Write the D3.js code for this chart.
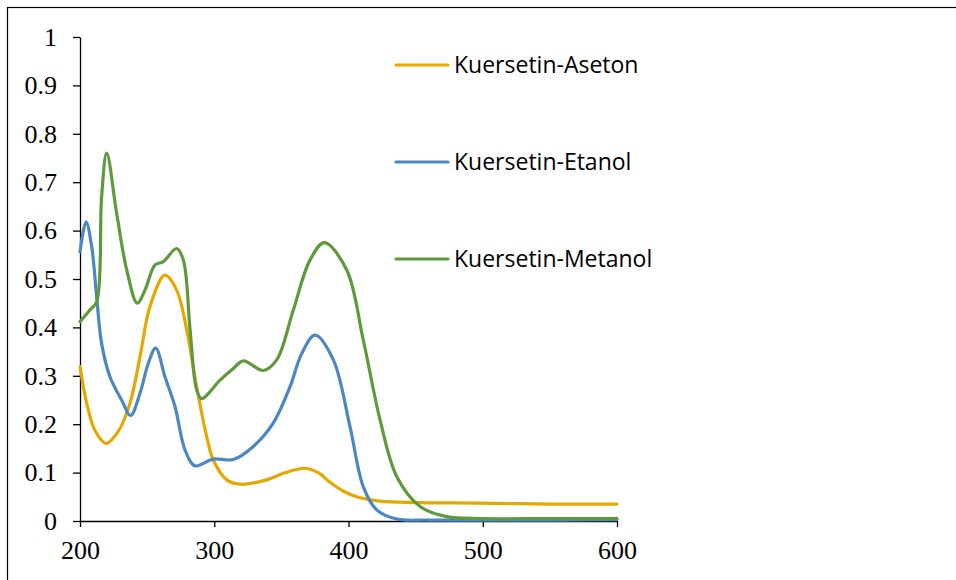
<!DOCTYPE html>
<html><head><meta charset="utf-8">
<script src="https://cdn.jsdelivr.net/npm/d3@7"></script>
<style>body{margin:0;background:#fff}svg{display:block}</style>
</head><body>
<svg id="c" width="956" height="580"></svg>
<script>
const seriesNames = ["Kuersetin-Aseton", "Kuersetin-Etanol", "Kuersetin-Metanol"];
const seriesColors = ["#E5A800", "#4C87C2", "#5E9A3B"];
const xTicks = [200, 300, 400, 500, 600];
const yTicks = [0, 0.1, 0.2, 0.3, 0.4, 0.5, 0.6, 0.7, 0.8, 0.9, 1];

const asetonX = [200, 205, 211, 219.4, 228.5, 237.2, 244.7, 252.1, 263.3, 272, 279.5, 286.9, 294.4, 299.3, 309.3, 319.2, 339, 352, 367.6, 378, 386.2, 396, 406, 423.5, 450, 498, 550, 600];
const asetonY = [0.319, 0.243, 0.188, 0.160, 0.185, 0.243, 0.339, 0.443, 0.508, 0.477, 0.395, 0.277, 0.174, 0.126, 0.085, 0.076, 0.085, 0.099, 0.109, 0.099, 0.080, 0.062, 0.050, 0.041, 0.038, 0.037, 0.035, 0.035];

const etanolX = [200, 204.5, 208.7, 212.4, 216.1, 222.3, 231, 237.7, 244.7, 250.9, 256.4, 263.3, 270.8, 278.2, 285.7, 299.3, 314.2, 329.1, 343.9, 356.4, 365, 375, 388.7, 401.1, 411, 421, 436, 460, 500, 550, 600];
const etanolY = [0.556, 0.618, 0.567, 0.463, 0.367, 0.298, 0.250, 0.218, 0.264, 0.326, 0.357, 0.298, 0.236, 0.147, 0.114, 0.128, 0.127, 0.154, 0.202, 0.277, 0.345, 0.384, 0.333, 0.195, 0.071, 0.023, 0.004, 0.002, 0.002, 0.002, 0.003];

const metanolX = [200, 207.4, 212.4, 216.1, 219.9, 227.3, 234.8, 242.7, 248.4, 255.9, 262.1, 272, 277, 282, 286.9, 290.6, 304.3, 314.2, 321.6, 336.5, 346.5, 358.9, 371.3, 382, 398.6, 411, 423.5, 435.9, 453.3, 473, 500, 550, 600];
const metanolY = [0.412, 0.436, 0.453, 0.670, 0.760, 0.636, 0.519, 0.450, 0.477, 0.529, 0.536, 0.563, 0.539, 0.395, 0.271, 0.253, 0.291, 0.315, 0.331, 0.311, 0.333, 0.436, 0.539, 0.575, 0.519, 0.374, 0.209, 0.092, 0.030, 0.009, 0.005, 0.005, 0.005];

const seriesX = [asetonX, etanolX, metanolX];
const seriesY = [asetonY, etanolY, metanolY];

const svg = d3.select("#c");
svg.append("rect").attr("x", 7.5).attr("y", 7.5).attr("width", 1000).attr("height", 600)
  .attr("fill", "none").attr("stroke", "#000").attr("stroke-width", 1.2);

const x = d3.scaleLinear().domain([200, 600]).range([80, 617]);
const y = d3.scaleLinear().domain([0, 1]).range([521, 37]);

const xAxis = svg.append("g").attr("transform", "translate(0,521)")
  .call(d3.axisBottom(x).tickValues(xTicks).tickSize(6).tickSizeOuter(0).tickPadding(14).tickFormat(d3.format("d")));
const yAxis = svg.append("g").attr("transform", "translate(80,0)")
  .call(d3.axisLeft(y).tickValues(yTicks).tickSize(7).tickSizeOuter(0).tickPadding(16).tickFormat(d => d === 0 ? "0" : d === 1 ? "1" : d3.format(".1f")(d)));
[xAxis, yAxis].forEach(g => {
  g.selectAll("path,line").attr("stroke", "#000").attr("stroke-width", 1.3);
  g.selectAll("text").attr("font-family", "'Liberation Serif', 'Times New Roman', serif")
    .attr("font-size", 26).attr("fill", "#000");
});

const line = d3.line().x(d => x(d[0])).y(d => y(d[1])).curve(d3.curveCatmullRom.alpha(0.5));
seriesNames.forEach((name, i) => {
  const pts = seriesX[i].map((v, j) => [v, seriesY[i][j]]);
  svg.append("path").datum(pts).attr("d", line).attr("fill", "none")
    .attr("stroke", seriesColors[i]).attr("stroke-width", 3.2).attr("stroke-linejoin", "round").attr("stroke-linecap", "round");
});

const legend = svg.append("g");
seriesNames.forEach((name, i) => {
  const ly = 65 + i * 97;
  legend.append("line").attr("x1", 396).attr("x2", 448).attr("y1", ly).attr("y2", ly)
    .attr("stroke", seriesColors[i]).attr("stroke-width", 3.2).attr("stroke-linecap", "round");
  legend.append("text").attr("x", 454).attr("y", ly).attr("dy", "0.36em")
    .attr("font-family", "'Open Sans', sans-serif").attr("font-size", 23).attr("fill", "#000").text(name);
});
</script>
</body></html>
